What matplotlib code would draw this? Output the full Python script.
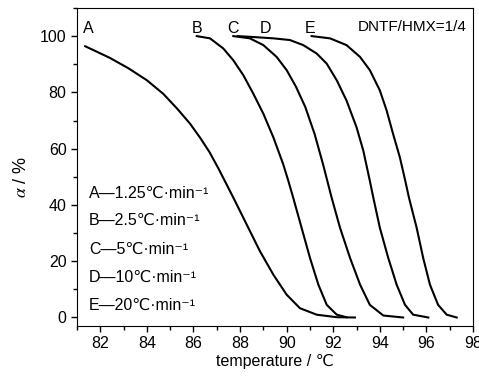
# -*- coding: utf-8 -*-
import matplotlib
matplotlib.use("Agg")
import matplotlib.pyplot as plt
from matplotlib.ticker import MultipleLocator

plt.rcParams['font.family'] = ['Liberation Sans', 'DejaVu Sans']
plt.rcParams['font.size'] = 11.5
plt.rcParams['mathtext.fontset'] = 'stix'

# donnees (temperature en degC, alpha en %)
T_A = [81.35, 82.4, 83.2, 84.0, 84.7, 85.3, 85.85, 86.3, 86.7, 87.1, 87.71, 88.28,
       88.85, 89.43, 90.0, 90.57, 91.29, 92.15, 92.93]
a_A = [96.4, 92.3, 88.6, 84.3, 79.5, 74.2, 68.9, 63.7, 58.6, 52.5, 42.6, 33.1,
       23.6, 15.2, 8.1, 3.3, 1.0, 0.1, 0.0]

T_B = [86.14, 86.71, 87.28, 87.71, 88.14, 88.57, 89.0, 89.43, 89.85, 90.07,
       90.28, 90.64, 91.0, 91.36, 91.72, 92.15, 92.57]
a_B = [100.0, 99.2, 95.6, 91.4, 86.1, 79.5, 72.4, 64.0, 54.5, 48.6,
       42.6, 31.9, 21.2, 11.7, 4.5, 1.0, 0.1]

T_C = [87.71, 88.42, 89.0, 89.57, 90.0, 90.4, 90.8, 91.2, 91.56, 91.93,
       92.29, 92.72, 93.15, 93.57, 94.15, 95.0]
a_C = [100.0, 99.2, 96.8, 92.6, 87.9, 82.0, 74.8, 65.2, 54.5, 42.6,
       31.9, 21.2, 11.7, 4.5, 0.7, 0.0]

T_D = [87.9, 88.7, 89.43, 90.14, 90.71, 91.29, 91.72, 92.15, 92.57, 93.0,
       93.29, 93.57, 93.72, 94.0, 94.36, 94.72, 95.08, 95.43, 96.08]
a_D = [100.0, 99.6, 99.2, 98.6, 96.8, 93.8, 90.2, 84.3, 77.1, 67.6,
       59.3, 48.6, 42.6, 31.9, 21.2, 11.7, 4.5, 1.0, 0.0]

T_E = [91.07, 91.86, 92.57, 93.15, 93.57, 94.0, 94.29, 94.57, 94.86, 95.08,
       95.25, 95.58, 95.86, 96.15, 96.5, 96.87, 97.3]
a_E = [100.0, 99.2, 96.8, 92.6, 87.9, 80.7, 73.6, 65.2, 56.9, 49.0,
       42.6, 31.9, 21.2, 11.7, 4.5, 1.0, 0.0]

courbes = [(T_A, a_A), (T_B, a_B), (T_C, a_C), (T_D, a_D), (T_E, a_E)]
noms = ["A", "B", "C", "D", "E"]
x_noms = [81.47, 86.15, 87.7, 89.07, 91.0]
vitesses = ["1.25", "2.5", "5", "10", "20"]

fig = plt.figure(figsize=(4.79, 3.79), dpi=100)
ax = fig.add_axes([0.1608, 0.140, 0.8267, 0.839])

for T, a in courbes:
    ax.plot(T, a, color='black', linewidth=1.5, solid_joinstyle='round')

for nom, xn in zip(noms, x_noms):
    ax.text(xn, 102.6, nom, ha='center', va='center')

ax.text(0.985, 0.94, "DNTF/HMX=1/4", transform=ax.transAxes,
        ha='right', va='center', fontsize=11)

# legende
y_leg = [0.418, 0.333, 0.242, 0.154, 0.066]
for nom, v, yl in zip(noms, vitesses, y_leg):
    ax.text(0.03, yl, nom + "\u2014" + v + "\u2103\u00b7min\u207b\u00b9",
            transform=ax.transAxes, ha='left', va='center')

ax.set_xlim(81, 98)
ax.set_ylim(-3, 110)
ax.xaxis.set_major_locator(MultipleLocator(2))
ax.xaxis.set_minor_locator(MultipleLocator(1))
ax.yaxis.set_minor_locator(MultipleLocator(10))
ax.set_yticks([0, 20, 40, 60, 80, 100])
ax.tick_params(which='major', direction='out', length=4, width=1)
ax.tick_params(which='minor', direction='out', length=3, width=1)

ax.set_xlabel("temperature / \u2103", labelpad=2)
ax.set_ylabel(r"$\alpha$ / %", fontsize=13)
ax.yaxis.set_label_coords(-0.12, 0.47)

plt.savefig("out.png", dpi=100)
